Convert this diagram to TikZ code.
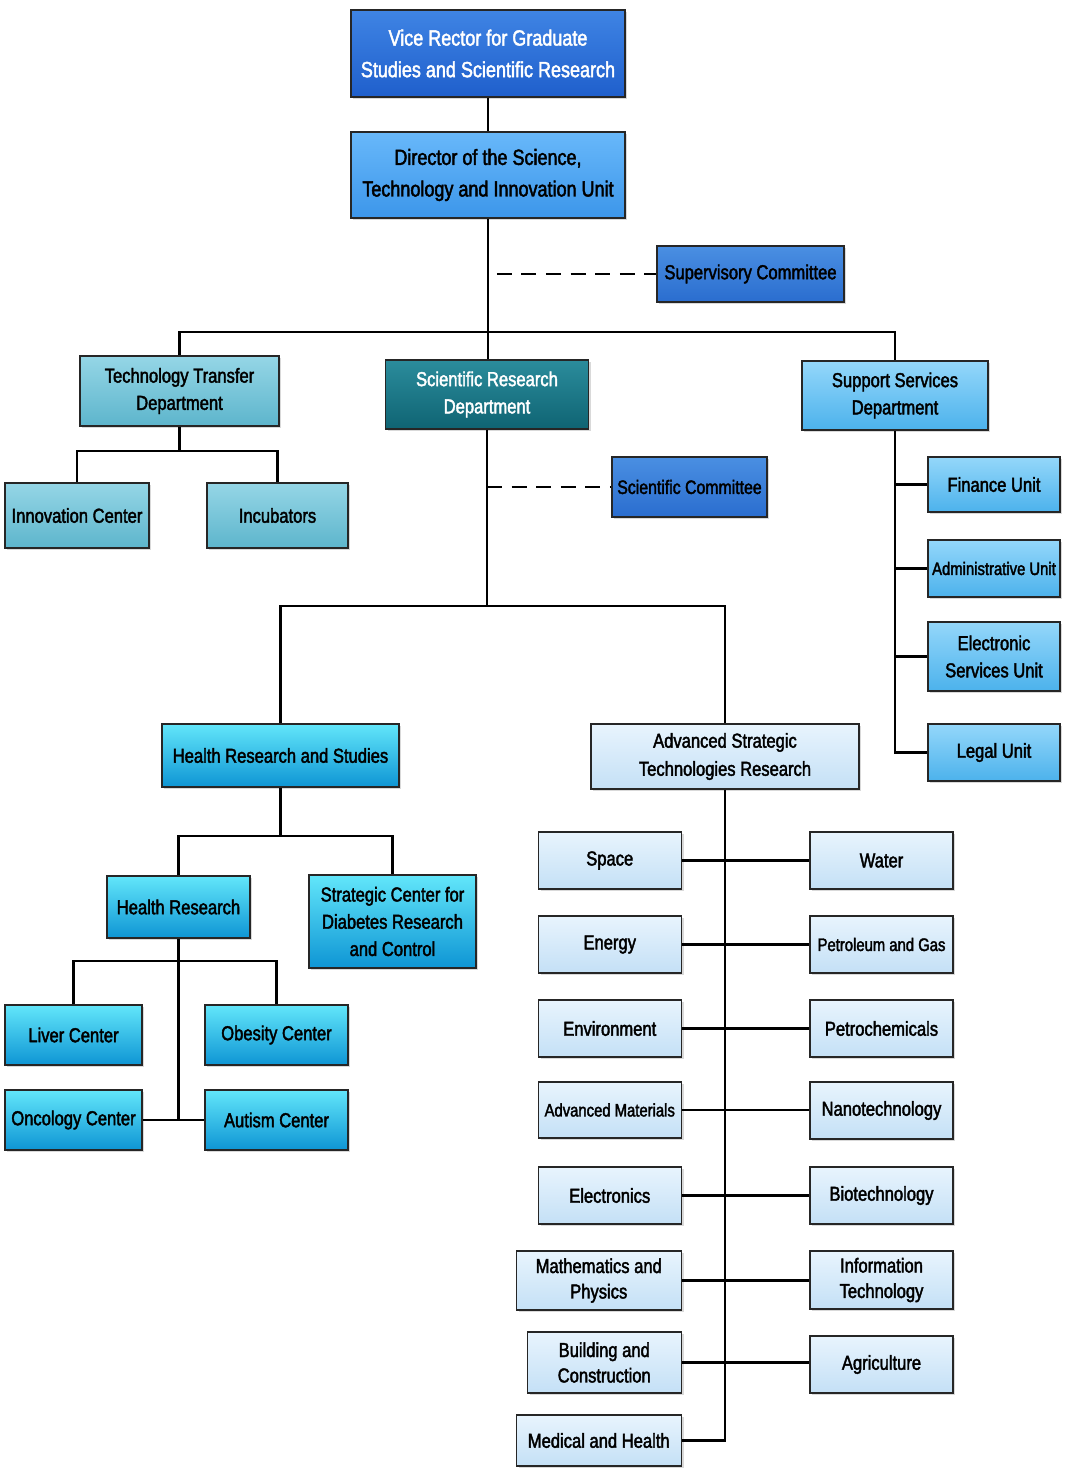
\documentclass[tikz,border=0pt]{standalone}
\usepackage{fontspec}
\setmainfont{Liberation Sans}[FakeStretch=0.82, FakeBold=2]
\usetikzlibrary{shadows}

\definecolor{rectorTop}{HTML}{3F84E4}	\definecolor{rectorBot}{HTML}{1F5FCC}
\definecolor{dirTop}{HTML}{68B8FA}	\definecolor{dirBot}{HTML}{3C96EA}
\definecolor{comTop}{HTML}{4A8FE2}	\definecolor{comBot}{HTML}{2A6DCF}
\definecolor{tranTop}{HTML}{95D6E6}	\definecolor{tranBot}{HTML}{5DB5CC}
\definecolor{resTop}{HTML}{2B8C9C}	\definecolor{resBot}{HTML}{0F6473}
\definecolor{supTop}{HTML}{94D7FA}	\definecolor{supBot}{HTML}{4CB2EC}
\definecolor{hlthTop}{HTML}{62E6FA}	\definecolor{hlthBot}{HTML}{0E95D4}
\definecolor{techTop}{HTML}{E8F4FD}	\definecolor{techBot}{HTML}{C4E0F6}

\begin{document}
\begin{tikzpicture}[x=0.02cm, y=-0.02cm, line width=1.25pt,	%1 unit = 1 pixel of the chart
	box/.style={draw=black!85, line width=0.85pt, align=center, inner sep=2pt,
		font=\fontsize{11.5}{15.5}\selectfont,
		drop shadow={shadow xshift=1.3pt, shadow yshift=-1.3pt, opacity=.3}},
	sz/.style 2 args={minimum width=#1*0.02cm, minimum height=#2*0.02cm},
	bigtxt/.style={font=\fontsize{12.5}{18}\selectfont},
	smalltxt/.style={font=\fontsize{10.3}{14}\selectfont},
	rector/.style={box, top color=rectorTop, bottom color=rectorBot, text=white},
	director/.style={box, top color=dirTop, bottom color=dirBot},
	committee/.style={box, top color=comTop, bottom color=comBot},
	transfer/.style={box, top color=tranTop, bottom color=tranBot},
	research/.style={box, top color=resTop, bottom color=resBot, text=white},
	support/.style={box, top color=supTop, bottom color=supBot},
	health/.style={box, top color=hlthTop, bottom color=hlthBot},
	tech/.style={box, top color=techTop, bottom color=techBot, font=\fontsize{11.5}{14.5}\selectfont},
	dashes/.style={dash pattern=on 8.5pt off 5.5pt}]
	\useasboundingbox (0,0) rectangle (1067,1474);

	%top of the chart
	\node[rector, bigtxt, sz={274}{87}] (vr) at (488,53.5) {Vice Rector for Graduate\\Studies and Scientific Research};
	\node[director, bigtxt, sz={274}{86}] (dir) at (488,175) {Director of the Science,\\Technology and Innovation Unit};
	\node[committee, sz={187}{56}] (sup) at (750.5,274) {Supervisory Committee};

	%departments
	\node[transfer, sz={199}{70}] (ttd) at (179.5,391) {Technology Transfer\\Department};
	\node[research, sz={203}{69}] (srd) at (487,394.5) {Scientific Research\\Department};
	\node[support, sz={186}{69}] (ssd) at (895,395.5) {Support Services\\Department};

	\node[transfer, sz={144}{65}] (ic) at (77,515.5) {Innovation Center};
	\node[transfer, sz={141}{65}] (inc) at (277.5,515.5) {Incubators};
	\node[committee, font=\fontsize{11}{14}\selectfont, sz={155}{60}] (sc) at (689.5,487) {Scientific Committee};

	\node[support, sz={132}{55}] (fin) at (994,484.5) {Finance Unit};
	\node[support, smalltxt, sz={132}{57}] (adm) at (994,568.5) {Administrative Unit};
	\node[support, sz={132}{69}] (esu) at (994,656.5) {Electronic\\Services Unit};
	\node[support, sz={132}{57}] (leg) at (994,752.5) {Legal Unit};

	%health branch
	\node[health, sz={237}{63}] (hrs) at (280.5,755.5) {Health Research and Studies};
	\node[health, sz={143}{62}] (hr) at (178.5,907) {Health Research};
	\node[health, sz={167}{93}] (scd) at (392.5,921.5) {Strategic Center for\\Diabetes Research\\and Control};
	\node[health, sz={137}{60}] (liv) at (73.5,1035) {Liver Center};
	\node[health, sz={143}{60}] (obe) at (276.5,1035) {Obesity Center};
	\node[health, sz={137}{60}] (onc) at (73.5,1120) {Oncology Center};
	\node[health, sz={143}{60}] (aut) at (276.5,1120) {Autism Center};

	%technologies branch
	\node[tech, sz={268}{65}, font=\fontsize{11.5}{16}\selectfont] (ast) at (725,756.5) {Advanced Strategic\\Technologies Research};
	\foreach \i/\y/\w/\h/\t/\a in {1/860.5/143/57/11.5/Space, 2/944.5/143/57/11.5/Energy,
		3/1028.5/143/57/11.5/Environment, 4/1110/143/56/10.3/{Advanced Materials},
		5/1195.5/143/57/11.5/Electronics, 6/1280.5/165/59/11.5/{Mathematics and\\Physics},
		7/1362.5/154/61/11.5/{Building and\\Construction}, 8/1440.5/165/51/11.5/{Medical and Health}}
		\node[tech, sz={\w}{\h}, anchor=east, font=\fontsize{\t}{14.5}\selectfont] (L\i) at (682,\y) {\a};	%left column
	\foreach \i/\y/\h/\t/\b in {1/860.5/57/11.5/Water, 2/944.5/57/10.3/{Petroleum and Gas},
		3/1028.5/57/11.5/Petrochemicals, 4/1110.5/57/11.5/Nanotechnology,
		5/1195.5/57/11.5/Biotechnology, 6/1280/58/11.5/{Information\\Technology}, 7/1364.5/57/11.5/Agriculture}
		\node[tech, sz={143}{\h}, font=\fontsize{\t}{14.5}\selectfont] (R\i) at (881.5,\y) {\b};	%right column

	%connectors
	\coordinate (b1) at (487,332);		%bar over the departments
	\coordinate (b2) at (179.5,451);	%bar under technology transfer
	\coordinate (b3) at (487,606);		%bar under scientific research
	\coordinate (b4) at (280.5,836);	%bar under health research and studies
	\coordinate (b5) at (178.5,961);	%bar under health research

	\draw (vr.south) -- (vr.south |- dir.north);
	\draw (dir.south) -- (dir.south |- srd.north);
	\draw[dashes, shorten <=5pt] (dir.south |- sup.west) -- (sup.west);
	\draw (ttd.north) |- (b1) -| (ssd.north);
	\draw (ttd.south) -- (b2);
	\draw (ic.north) |- (b2) -| (inc.north);
	\draw (srd.south) -- (b3);
	\draw[dashes] (srd.south |- sc.west) -- (sc.west);
	\draw (hrs.north) |- (b3) -| (ast.north);
	\draw (ssd.south) |- (leg.west);
	\foreach \n in {fin,adm,esu}
		\draw (ssd.south |- \n.west) -- (\n.west);
	\draw (hrs.south) -- (b4);
	\draw (hr.north) |- (b4) -| (scd.north);
	\draw (hr.south) |- (onc.east);
	\draw (hr.south |- aut.west) -- (aut.west);
	\draw (liv.north) |- (b5) -| (obe.north);
	\draw (ast.south) |- (L8.east);
	\foreach \i in {1,...,7}
		\draw (L\i.east) -- (L\i.east -| R\i.west);
\end{tikzpicture}
\end{document}
